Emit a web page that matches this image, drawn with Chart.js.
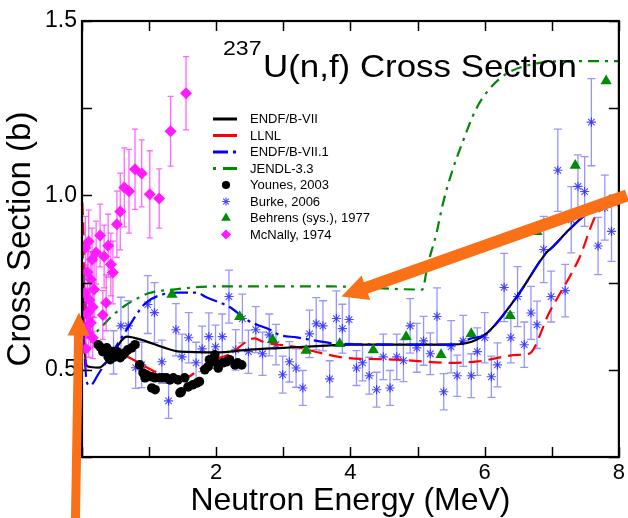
<!DOCTYPE html>
<html>
<head>
<meta charset="utf-8">
<script src="https://cdn.jsdelivr.net/npm/chart.js@4.4.1/dist/chart.umd.min.js"></script>
<style>
  html, body { margin: 0; padding: 0; background: #fff; }
  #wrap { width: 628px; height: 518px; }
</style>
</head>
<body>
<div id="wrap"><canvas id="myChart" width="628" height="518"></canvas></div>
<script>
const FONT = "'Liberation Sans', Arial, Helvetica, sans-serif";

// evaluations (energy in MeV, cross section in barns)
const endfE   = [0.01, 0.03, 0.08, 0.25, 0.4, 0.67, 0.9, 1.2, 1.46, 2.0, 2.5, 3.0, 3.5, 4.0, 5.47, 6.0, 6.47, 6.92, 7.0, 7.26, 7.5, 7.75, 8.0];
const endfXS  = [0.75, 0.6, 0.51, 0.506, 0.53, 0.595, 0.585, 0.565, 0.552, 0.55, 0.558, 0.563, 0.568, 0.572, 0.572, 0.60, 0.707, 0.836, 0.85, 0.902, 0.945, 0.978, 0.995];

const llnlE   = [0.005, 0.02, 0.035, 0.06, 0.15, 0.3, 0.7, 1.2, 1.53, 1.7, 1.9, 2.2, 2.57, 2.7, 3.2, 3.54, 3.9, 4.7, 5.47, 5.9, 6.5, 6.66, 6.96, 7.4, 7.7, 7.95, 8.0];
const llnlXS  = [0.98, 0.9, 0.7, 0.61, 0.58, 0.57, 0.535, 0.486, 0.477, 0.494, 0.523, 0.545, 0.59, 0.58, 0.565, 0.549, 0.535, 0.529, 0.52, 0.524, 0.543, 0.546, 0.663, 0.816, 0.954, 0.97, 0.972];

const endf71E  = [0.01, 0.03, 0.07, 0.12, 0.25, 0.45, 0.7, 0.94, 1.2, 1.41, 1.71, 1.86, 2.2, 2.45, 2.6, 2.8, 2.94, 3.2, 3.5, 3.84, 5.5, 5.8, 6.0, 6.47, 6.92, 7.0, 7.26, 7.5, 7.75, 8.0];
const endf71XS = [0.62, 0.57, 0.465, 0.455, 0.49, 0.55, 0.625, 0.69, 0.716, 0.721, 0.721, 0.707, 0.68, 0.644, 0.63, 0.615, 0.60, 0.593, 0.583, 0.574, 0.572, 0.59, 0.60, 0.707, 0.836, 0.85, 0.902, 0.945, 0.978, 0.995];

const jendlE  = [0.005, 0.03, 0.08, 0.15, 0.25, 0.45, 0.65, 0.85, 1.0, 1.36, 1.95, 3.7, 5.07, 5.15, 5.28, 5.37, 5.5, 5.67, 5.87, 6.07, 6.32, 6.71, 7.21, 8.0];
const jendlXS = [0.85, 0.76, 0.63, 0.6, 0.615, 0.655, 0.685, 0.707, 0.72, 0.73, 0.739, 0.739, 0.73, 0.80, 0.89, 0.97, 1.06, 1.152, 1.247, 1.305, 1.348, 1.376, 1.385, 1.385];

// measurements
const younesE  = [0.24, 0.27, 0.31, 0.37, 0.39, 0.42, 0.46, 0.49, 0.52, 0.57, 0.61, 0.64, 0.68, 0.74, 0.79, 0.86, 0.91, 0.94, 0.96, 1.04, 1.04, 1.09, 1.09, 1.16, 1.21, 1.26, 1.31, 1.36, 1.43, 1.46, 1.48, 1.53, 1.58, 1.65, 1.71, 1.75, 1.83, 1.88, 1.9, 1.98, 1.98, 2.03, 2.1, 2.15, 2.2, 2.28, 2.32, 2.38];
const younesXS = [0.572, 0.566, 0.552, 0.563, 0.537, 0.529, 0.552, 0.537, 0.552, 0.535, 0.543, 0.549, 0.557, 0.563, 0.572, 0.514, 0.491, 0.477, 0.486, 0.48, 0.448, 0.477, 0.443, 0.477, 0.477, 0.477, 0.471, 0.477, 0.471, 0.434, 0.437, 0.477, 0.451, 0.457, 0.462, 0.466, 0.5, 0.509, 0.529, 0.523, 0.543, 0.505, 0.52, 0.523, 0.529, 0.514, 0.52, 0.514];

const burkeE   = [0.47, 0.58, 0.69, 0.80, 0.89, 0.98, 1.08, 1.19, 1.29, 1.40, 1.49, 1.59, 1.70, 1.79, 1.89, 1.99, 2.09, 2.19, 2.29, 2.39, 2.48, 2.59, 2.69, 2.79, 2.89, 2.99, 3.09, 3.19, 3.29, 3.39, 3.49, 3.59, 3.69, 3.79, 3.88, 3.98, 4.09, 4.18, 4.28, 4.39, 4.49, 4.59, 4.69, 4.79, 4.89, 4.99, 5.09, 5.19, 5.29, 5.39, 5.50, 5.59, 5.68, 5.80, 5.89, 6.00, 6.10, 6.19, 6.29, 6.39, 6.49, 6.59, 6.69, 6.78, 6.88, 6.99, 7.09, 7.20, 7.29, 7.39, 7.49, 7.59, 7.69, 7.79, 7.89];
const burkeXS  = [0.55, 0.626, 0.626, 0.506, 0.514, 0.687, 0.664, 0.523, 0.411, 0.615, 0.537, 0.592, 0.52, 0.56, 0.595, 0.566, 0.595, 0.71, 0.557, 0.647, 0.552, 0.615, 0.546, 0.60, 0.572, 0.486, 0.523, 0.505, 0.448, 0.603, 0.632, 0.626, 0.474, 0.647, 0.618, 0.644, 0.505, 0.52, 0.483, 0.443, 0.537, 0.448, 0.537, 0.526, 0.626, 0.563, 0.583, 0.546, 0.653, 0.437, 0.566, 0.483, 0.583, 0.483, 0.552, 0.592, 0.48, 0.514, 0.736, 0.592, 0.71, 0.572, 0.663, 0.629, 0.845, 0.71, 1.072, 0.727, 0.93, 1.026, 1.011, 1.21, 0.855, 0.965, 0.897];
const burkeErr = [0.062, 0.082, 0.072, 0.059, 0.065, 0.083, 0.086, 0.062, 0.05, 0.075, 0.065, 0.072, 0.059, 0.065, 0.068, 0.062, 0.065, 0.076, 0.058, 0.07, 0.062, 0.066, 0.062, 0.06, 0.058, 0.053, 0.058, 0.055, 0.05, 0.068, 0.075, 0.072, 0.052, 0.079, 0.07, 0.068, 0.05, 0.052, 0.053, 0.05, 0.065, 0.05, 0.065, 0.06, 0.078, 0.07, 0.07, 0.06, 0.082, 0.052, 0.075, 0.059, 0.073, 0.063, 0.068, 0.072, 0.059, 0.063, 0.098, 0.072, 0.086, 0.065, 0.076, 0.068, 0.095, 0.073, 0.118, 0.075, 0.095, 0.09, 0.1, 0.125, 0.082, 0.093, 0.086];

const behrensE  = [1.34, 2.35, 2.84, 3.34, 3.84, 4.34, 4.83, 5.35, 5.8, 6.38, 6.78, 7.35, 7.81];
const behrensXS = [0.716, 0.652, 0.586, 0.555, 0.575, 0.557, 0.595, 0.543, 0.603, 0.655, 0.896, 1.086, 1.328];

const mcnallyE   = [0.03, 0.04, 0.05, 0.06, 0.07, 0.08, 0.09, 0.10, 0.10, 0.11, 0.13, 0.13, 0.15, 0.16, 0.16, 0.18, 0.21, 0.27, 0.31, 0.33, 0.36, 0.39, 0.43, 0.46, 0.52, 0.57, 0.63, 0.70, 0.79, 0.89, 1.01, 1.15, 1.32, 1.55];
const mcnallyXS  = [0.62, 0.72, 0.85, 0.56, 0.66, 0.78, 0.664, 0.868, 0.606, 0.70, 0.759, 0.635, 0.816, 0.68, 0.592, 0.73, 0.836, 0.885, 0.657, 0.825, 0.692, 0.856, 0.802, 0.779, 0.917, 0.954, 1.023, 1.012, 1.075, 1.063, 1.003, 0.991, 1.184, 1.293];
const mcnallyErr = [0.07, 0.08, 0.09, 0.06, 0.07, 0.08, 0.07, 0.09, 0.07, 0.07, 0.08, 0.07, 0.09, 0.07, 0.06, 0.08, 0.09, 0.09, 0.07, 0.09, 0.08, 0.09, 0.09, 0.09, 0.095, 0.11, 0.113, 0.12, 0.115, 0.096, 0.125, 0.085, 0.1, 0.105];

// annotation arrows, given in data units
const arrows = [
  { from: [8.12, 1.0], to: [3.866, 0.71], shaft: 12, head: 26, headW: 26 },
  { from: [-0.097, 0.075], to: [-0.045, 0.664], shaft: 9, head: 23, headW: 22 }
];

const pts = (xs, ys) => xs.map((x, i) => ({ x, y: ys[i] }));

function curve(label, xs, ys, color, dash, legendDash, order) {
  return {
    label, data: pts(xs, ys), showLine: true, order,
    borderColor: color, backgroundColor: color, borderWidth: 2.2,
    borderDash: dash, legendDash, pointRadius: 0,
    cubicInterpolationMode: 'monotone'
  };
}

const datasets = [
  curve('ENDF/B-VII', endfE, endfXS, '#000000', [], [], 6),
  curve('LLNL', llnlE, llnlXS, '#ff0000', [13, 7], [], 7),
  curve('ENDF/B-VII.1', endf71E, endf71XS, '#0000ff', [18, 5, 3, 5], [15, 5, 3, 5], 5),
  curve('JENDL-3.3', jendlE, jendlXS, '#008800', [11, 6, 3, 6], [3, 7, 14, 6], 8),
  { label: 'Younes, 2003', data: pts(younesE, younesXS), order: 4,
    pointStyle: 'circle', pointRadius: 4.8, backgroundColor: '#000', borderColor: '#000', borderWidth: 0 },
  { label: 'Burke, 2006', data: pts(burkeE, burkeXS), order: 20,
    errors: burkeErr, errorColor: 'rgba(80,80,255,0.6)', cap: 4,
    pointStyle: 'star', pointRadius: 4.6, borderColor: 'rgba(30,30,255,0.8)', backgroundColor: 'rgba(30,30,255,0.8)', borderWidth: 1.1 },
  { label: 'Behrens (sys.), 1977', data: pts(behrensE, behrensXS), order: 1,
    pointStyle: 'triangle', pointRadius: 6.5, backgroundColor: '#008c00', borderColor: '#008c00', borderWidth: 0 },
  { label: 'McNally, 1974', data: pts(mcnallyE, mcnallyXS), order: 2,
    errors: mcnallyErr, errorColor: 'rgba(255,0,255,0.6)', cap: 3,
    pointStyle: 'rectRot', pointRadius: 6, backgroundColor: '#ff1aff', borderColor: '#ff1aff', borderWidth: 0 }
];

const decorations = {
  id: 'decorations',
  beforeDatasetDraw(chart, args) {
    const ds = chart.data.datasets[args.index];
    if (!ds.errors) return;
    const { ctx, chartArea: a, scales: { y } } = chart;
    ctx.save();
    ctx.beginPath();
    ctx.rect(a.left, a.top, a.right - a.left, a.bottom - a.top);
    ctx.clip();
    ctx.strokeStyle = ds.errorColor;
    ctx.lineWidth = 1.3;
    args.meta.data.forEach((p, i) => {
      const v = ds.data[i].y, e = ds.errors[i];
      const t = y.getPixelForValue(v + e), b = y.getPixelForValue(v - e);
      ctx.beginPath();
      ctx.moveTo(p.x, t); ctx.lineTo(p.x, b);
      ctx.moveTo(p.x - ds.cap, t); ctx.lineTo(p.x + ds.cap, t);
      ctx.moveTo(p.x - ds.cap, b); ctx.lineTo(p.x + ds.cap, b);
      ctx.stroke();
    });
    ctx.restore();
  },
  afterDatasetsDraw(chart) {
    const { ctx, chartArea: a, scales: { x, y } } = chart;
    ctx.save();
    ctx.strokeStyle = '#000';
    ctx.lineWidth = 1.5;
    // inward ticks on all four sides
    ctx.beginPath();
    x.ticks.forEach(t => {
      const px = Math.round(x.getPixelForValue(t.value)) + 0.5;
      ctx.moveTo(px, a.bottom); ctx.lineTo(px, a.bottom - 10);
      ctx.moveTo(px, a.top); ctx.lineTo(px, a.top + 10);
    });
    y.ticks.forEach(t => {
      const py = Math.round(y.getPixelForValue(t.value)) + 0.5;
      ctx.moveTo(a.left, py); ctx.lineTo(a.left + 10, py);
      ctx.moveTo(a.right, py); ctx.lineTo(a.right - 10, py);
    });
    ctx.stroke();
    ctx.lineWidth = 2.2;
    ctx.strokeRect(a.left, a.top, a.right - a.left, a.bottom - a.top);
    ctx.restore();
  },
  afterDraw(chart) {
    const { ctx, chartArea: a, scales: { x, y } } = chart;
    ctx.save();
    ctx.fillStyle = '#000';
    ctx.textBaseline = 'alphabetic';

    // plot title with superscript mass number
    ctx.save();
    ctx.translate(a.left + 141, a.top + 34);
    ctx.scale(1.1, 1);
    ctx.font = `21px ${FONT}`;
    ctx.fillText('237', 0, 0);
    ctx.restore();
    ctx.save();
    ctx.translate(a.left + 181, a.top + 56);
    ctx.scale(1.09, 1);
    ctx.font = `32px ${FONT}`;
    ctx.fillText('U(n,f) Cross Section', 0, 0);
    ctx.restore();

    // legend inside the frame
    const lx = a.left + 131, ly = a.top + 98, row = 16.5;
    ctx.font = `13px ${FONT}`;
    ctx.textBaseline = 'middle';
    chart.data.datasets.forEach((ds, i) => {
      const cy = ly + i * row;
      ctx.save();
      if (ds.showLine) {
        ctx.strokeStyle = ds.borderColor;
        ctx.lineWidth = 3;
        ctx.setLineDash(ds.legendDash);
        ctx.beginPath();
        ctx.moveTo(lx, cy); ctx.lineTo(lx + 24, cy);
        ctx.stroke();
      } else {
        ctx.fillStyle = ds.backgroundColor;
        ctx.strokeStyle = ds.borderColor;
        ctx.lineWidth = ds.borderWidth || 1;
        Chart.helpers.drawPoint(ctx, {
          pointStyle: ds.pointStyle, radius: ds.pointRadius * 0.85, rotation: 0,
          borderWidth: ds.borderWidth
        }, lx + 13, cy);
      }
      ctx.restore();
      ctx.fillStyle = '#000';
      ctx.fillText(ds.label, lx + 37, cy + 0.5);
    });

    // orange annotation arrows
    ctx.fillStyle = 'rgb(250,112,22)';
    arrows.forEach(ar => {
      const x1 = x.getPixelForValue(ar.from[0]), y1 = y.getPixelForValue(ar.from[1]);
      const x2 = x.getPixelForValue(ar.to[0]), y2 = y.getPixelForValue(ar.to[1]);
      const len = Math.hypot(x2 - x1, y2 - y1);
      const ux = (x2 - x1) / len, uy = (y2 - y1) / len;
      const nx = -uy, ny = ux;
      const bx = x2 - ux * ar.head, by = y2 - uy * ar.head;
      const s = ar.shaft / 2, h = ar.headW / 2;
      ctx.beginPath();
      ctx.moveTo(x1 + nx * s, y1 + ny * s);
      ctx.lineTo(bx + nx * s, by + ny * s);
      ctx.lineTo(bx + nx * h, by + ny * h);
      ctx.lineTo(x2, y2);
      ctx.lineTo(bx - nx * h, by - ny * h);
      ctx.lineTo(bx - nx * s, by - ny * s);
      ctx.lineTo(x1 - nx * s, y1 - ny * s);
      ctx.closePath();
      ctx.fill();
    });
    ctx.restore();
  }
};

const myChart = new Chart(document.getElementById('myChart').getContext('2d'), {
  type: 'scatter',
  data: { datasets },
  options: {
    responsive: false,
    animation: false,
    devicePixelRatio: 1,
    layout: { padding: { top: 21, right: 8, left: 0, bottom: 0 } },
    plugins: { legend: { display: false }, tooltip: { enabled: false } },
    scales: {
      x: {
        type: 'linear', min: 0, max: 8,
        grid: { display: false, drawTicks: false }, border: { display: false },
        ticks: {
          stepSize: 1, autoSkip: false, maxRotation: 0, padding: 3, color: '#000',
          font: { family: FONT, size: 22 },
          callback: v => (v > 0 && v % 2 === 0) ? String(v) : ''
        },
        title: {
          display: true, text: 'Neutron Energy (MeV)', color: '#000',
          font: { family: FONT, size: 32, lineHeight: 1 }, padding: { top: 0, bottom: 1 }
        },
        afterFit: s => { s.height = 61; }
      },
      y: {
        type: 'linear', min: 0.25, max: 1.5,
        grid: { display: false, drawTicks: false }, border: { display: false },
        ticks: {
          stepSize: 0.25, autoSkip: false, padding: 5, color: '#000',
          font: { family: FONT, size: 23 },
          callback: v => Math.abs(v * 2 - Math.round(v * 2)) < 1e-9 ? v.toFixed(1) : ''
        },
        title: {
          display: true, text: 'Cross Section (b)', color: '#000',
          font: { family: FONT, size: 33, lineHeight: 1 }, padding: { top: 4.5, bottom: 0 }
        },
        afterFit: s => { s.width = 82; }
      }
    }
  },
  plugins: [decorations]
});
</script>
</body>
</html>
